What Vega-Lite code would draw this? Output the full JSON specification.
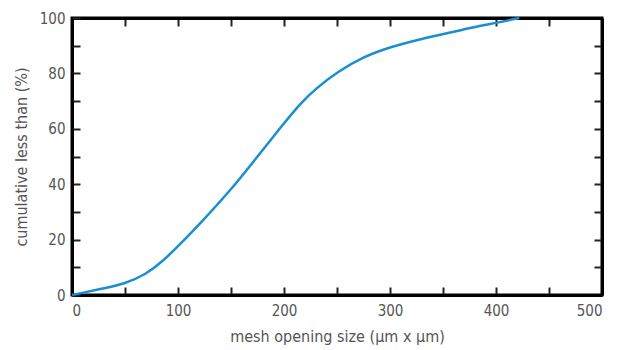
{
  "$schema": "https://vega.github.io/schema/vega-lite/v6.json",
  "width": 530,
  "height": 277,
  "autosize": {"type": "none"},
  "padding": {"left": 72, "top": 18, "right": 26, "bottom": 55},
  "background": "white",
  "config": {
    "view": {"stroke": "black", "strokeWidth": 3},
    "axis": {
      "grid": false,
      "domainColor": "black",
      "domainWidth": 3,
      "tickColor": "#222",
      "tickWidth": 2,
      "tickSize": -8,
      "labelFont": "DejaVu Sans Condensed, Liberation Sans, sans-serif",
      "labelFontSize": 15,
      "labelColor": "#555",
      "titleFont": "DejaVu Sans Condensed, Liberation Sans, sans-serif",
      "titleFontSize": 16,
      "titleFontWeight": "normal",
      "titleColor": "#555"
    }
  },
  "data": {
    "values": [
      {"size": 0, "pct": 0},
      {"size": 10, "pct": 0.8},
      {"size": 25, "pct": 2},
      {"size": 50, "pct": 4},
      {"size": 70, "pct": 7.5},
      {"size": 85, "pct": 12},
      {"size": 100, "pct": 17.5},
      {"size": 125, "pct": 27.5},
      {"size": 150, "pct": 38},
      {"size": 175, "pct": 50},
      {"size": 200, "pct": 62},
      {"size": 215, "pct": 69},
      {"size": 230, "pct": 74.5},
      {"size": 250, "pct": 80.5},
      {"size": 275, "pct": 86},
      {"size": 300, "pct": 89.5},
      {"size": 330, "pct": 92.5},
      {"size": 360, "pct": 95},
      {"size": 385, "pct": 97.2},
      {"size": 400, "pct": 98.2},
      {"size": 422, "pct": 100}
    ]
  },
  "layer": [
    {
      "mark": {"type": "line", "color": "#1a8fd0", "strokeWidth": 2.5, "interpolate": "basis"},
      "encoding": {
        "x": {
          "field": "size", "type": "quantitative",
          "scale": {"domain": [0, 500], "nice": false},
          "axis": {
            "orient": "bottom",
            "values": [0, 50, 100, 150, 200, 250, 300, 350, 400, 450, 500],
            "labelExpr": "datum.value % 100 === 0 ? datum.label : ''",
            "labelPadding": 16,
            "title": "mesh opening size (µm x µm)",
            "titlePadding": 10
          }
        },
        "y": {
          "field": "pct", "type": "quantitative",
          "scale": {"domain": [0, 100], "nice": false},
          "axis": {
            "orient": "left",
            "values": [0, 10, 20, 30, 40, 50, 60, 70, 80, 90, 100],
            "labelExpr": "datum.value % 20 === 0 ? datum.label : ''",
            "labelPadding": 15,
            "title": "cumulative less than  (%)",
            "titlePadding": 10
          }
        }
      }
    },
    {
      "mark": {"type": "line", "opacity": 0},
      "encoding": {
        "x": {
          "field": "size", "type": "quantitative",
          "scale": {"domain": [0, 500], "nice": false},
          "axis": {"orient": "top", "values": [50, 100, 150, 200, 250, 300, 350, 400, 450], "labels": false, "title": null}
        },
        "y": {
          "field": "pct", "type": "quantitative",
          "scale": {"domain": [0, 100], "nice": false},
          "axis": {"orient": "right", "values": [10, 20, 30, 40, 50, 60, 70, 80, 90], "labels": false, "title": null}
        }
      }
    }
  ],
  "resolve": {"axis": {"x": "independent", "y": "independent"}}
}
